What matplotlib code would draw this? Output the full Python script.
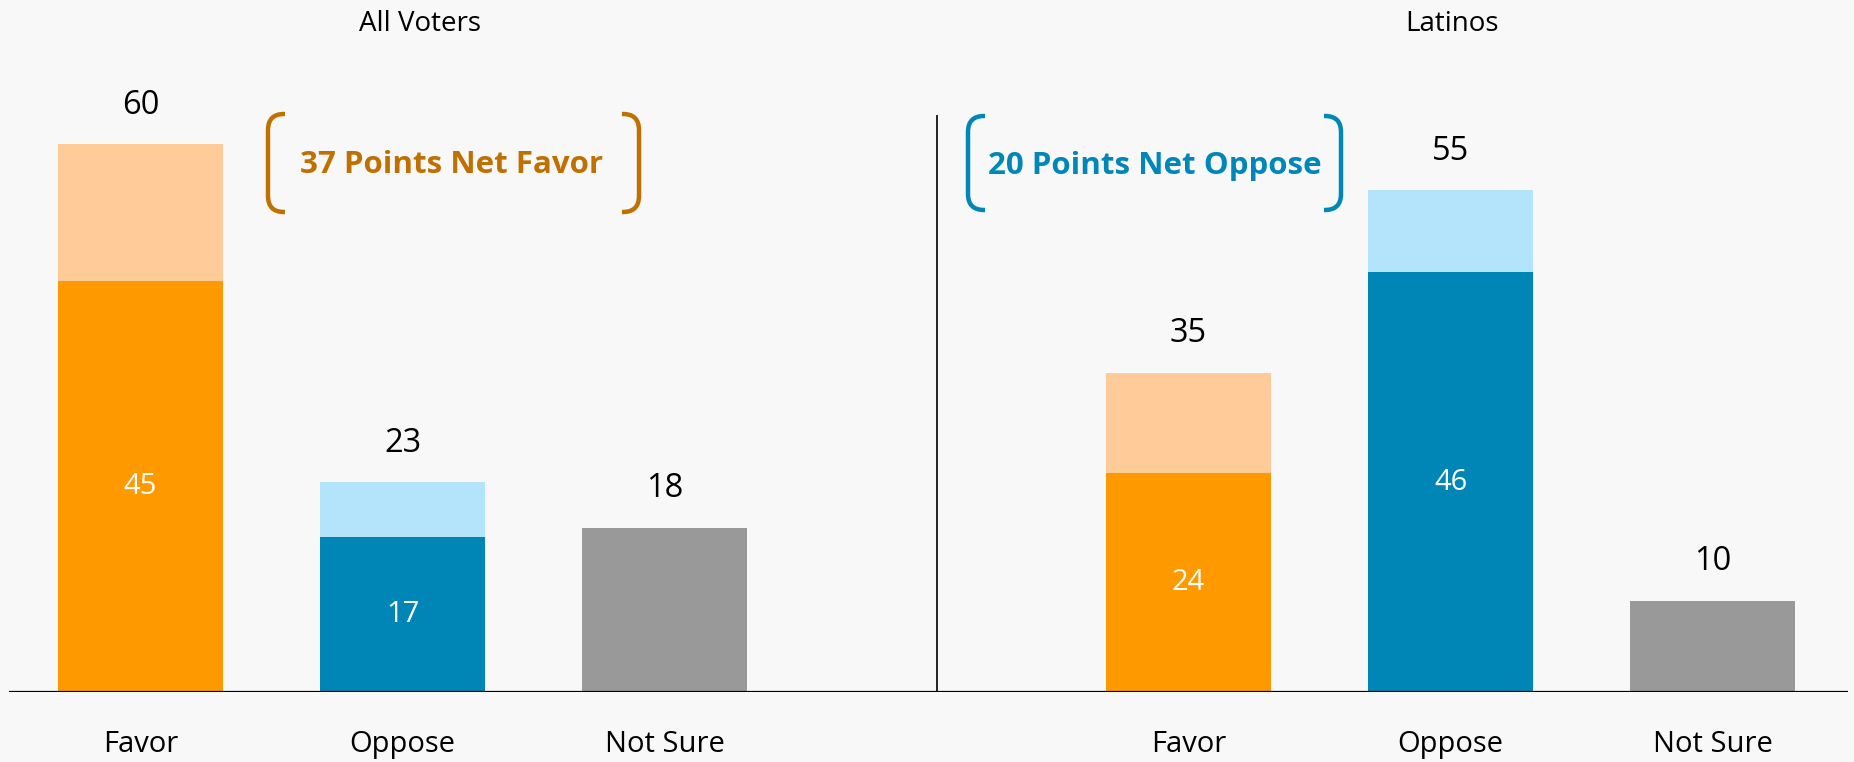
import numpy as np
import matplotlib.pyplot as plt
from matplotlib.path import Path
from matplotlib.patches import PathPatch

plt.rcParams['font.family'] = ['Open Sans', 'DejaVu Sans']

# data
groups = ['All Voters', 'Latinos']
categories = ['Favor', 'Oppose', 'Not Sure']
all_strong = [45, 17]          # strongly favor / strongly oppose
all_total = [60, 23, 18]
lat_strong = [24, 46]
lat_total = [35, 55, 10]
net_labels = ['37 Points Net Favor', '20 Points Net Oppose']

ORANGE = '#FF9900'
ORANGE_LT = '#FFCC99'
BLUE = '#0086B6'
BLUE_LT = '#B4E4FB'
GRAY = '#999999'
BG = '#F8F8F8'

W, H = 1854, 762
BAR_W = 0.63


def bracket(fig, x0, x1, top, bot, color, r=16):
	# rounded bracket in pixel coords (y measured from top of image)
	# x0 = vertical stroke, x1 = end of the short arms
	rx = r if x1 > x0 else -r
	def p(x, y):
		return (x / W, 1 - y / H)
	verts = [p(x1, top), p(x0 + rx, top), p(x0, top), p(x0, top + r),
		p(x0, bot - r), p(x0, bot), p(x0 + rx, bot), p(x1, bot)]
	codes = [Path.MOVETO, Path.LINETO, Path.CURVE3, Path.CURVE3,
		Path.LINETO, Path.CURVE3, Path.CURVE3, Path.LINETO]
	fig.add_artist(PathPatch(Path(verts, codes), transform=fig.transFigure,
		fill=False, edgecolor=color, lw=3.2, capstyle='butt'))


def main():
	fig = plt.figure(figsize=(W / 100, H / 100), dpi=100, facecolor=BG)
	ax = fig.add_axes([9 / W, 70 / H, 1839 / W, 639 / H])
	ax.set_facecolor(BG)
	ax.set_xlim(-0.502, 6.517)
	ax.set_ylim(0, 70)
	for s in ax.spines.values():
		s.set_visible(False)
	ax.set_xticks([])
	ax.set_yticks([])

	offsets = [0, 4]
	strongs = [all_strong, lat_strong]
	totals = [all_total, lat_total]
	for g in range(2):
		x = np.arange(3) + offsets[g]
		tot = totals[g]
		st = strongs[g]
		# favor
		ax.bar(x[0], st[0], BAR_W, color=ORANGE)
		ax.bar(x[0], tot[0] - st[0], BAR_W, bottom=st[0], color=ORANGE_LT)
		# oppose
		ax.bar(x[1], st[1], BAR_W, color=BLUE)
		ax.bar(x[1], tot[1] - st[1], BAR_W, bottom=st[1], color=BLUE_LT)
		# not sure
		ax.bar(x[2], tot[2], BAR_W, color=GRAY)
		for i in range(3):
			ax.annotate(str(tot[i]), (x[i], tot[i]), xytext=(0, 28),
				textcoords='offset points', ha='center', va='center', fontsize=23.5)
			ax.annotate(categories[i], (x[i], 0), xytext=(0, -38),
				textcoords='offset points', ha='center', va='center', fontsize=21)
		for i in range(2):
			ax.text(x[i], st[i] / 2, str(st[i]), ha='center', va='center',
				fontsize=21, color='white')

	ax.axhline(0, color='black', lw=1.6)
	ax.vlines(3.04, 0, 63.2, color='black', lw=1.2)

	fig.text(420 / W, 1 - 24 / H, groups[0], ha='center', va='center', fontsize=20)
	fig.text(1452 / W, 1 - 24 / H, groups[1], ha='center', va='center', fontsize=20)

	fig.text(452 / W, 1 - 165 / H, net_labels[0], ha='center', va='center',
		fontsize=22.5, fontweight='bold', color='#C07000')
	fig.text(1155 / W, 1 - 166 / H, net_labels[1], ha='center', va='center',
		fontsize=22.5, fontweight='bold', color='#0086B8')
	bracket(fig, 268, 285, 114, 212, '#C07000')
	bracket(fig, 639, 622, 114, 212, '#C07000')
	bracket(fig, 968, 985, 116, 210, '#0086B8')
	bracket(fig, 1341, 1324, 116, 210, '#0086B8')

	fig.savefig('out.png', dpi=100, facecolor=BG)


if __name__ == '__main__':
	main()
